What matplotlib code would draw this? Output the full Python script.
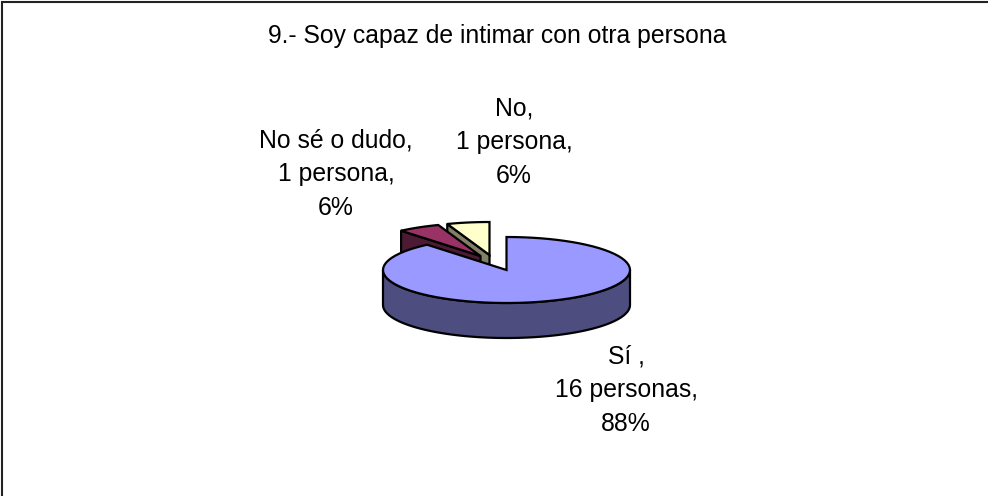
import numpy as np
import matplotlib
matplotlib.use('Agg')
import matplotlib.pyplot as plt
from matplotlib.patches import Polygon

plt.rcParams['font.family'] = 'Liberation Sans'

title = '9.- Soy capaz de intimar con otra persona'
categories = ['Sí ', 'No sé o dudo', 'No']
counts = [16, 1, 1]
units = ['16 personas', '1 persona', '1 persona']
percents = ['88%', '6%', '6%']

top_colors = ['#9999FF', '#993366', '#FFFFCC']
side_colors = ['#4D4D80', '#4D1A33', '#808066']
# everything below in pixels of the picture
cx, cy = 506.5, 270
rx, ry = 123.5, 33
depth = 35
offsets = [(0, 0), (-26, -14), (-17, -15)]
label_pos = [(626, 390), (336, 174), (514, 142)]

def rim(t1, t2, ox, oy, dy=0):
    t = np.radians(np.linspace(t1, t2, 80))
    return np.column_stack([cx + ox + rx*np.sin(t), cy + oy + dy - ry*np.cos(t)])

def draw_slice(ax, t1, t2, off, top, side):
    ox, oy = off
    apex = np.array([[cx + ox, cy + oy]])
    # cut face on the starting edge, only the small slices show it
    if off != (0, 0):
        a = rim(t1, t1, ox, oy)[0]
        face = [apex[0], a, a + [0, depth], apex[0] + [0, depth]]
        ax.add_patch(Polygon(face, fc=side, ec='black', lw=1.6, joinstyle='round'))
    # outer wall, front half of the ellipse only
    lo, hi = max(t1, 90), min(t2, 270)
    if lo < hi:
        up = rim(lo, hi, ox, oy)
        down = rim(hi, lo, ox, oy, depth)
        ax.add_patch(Polygon(np.vstack([up, down]), fc=side, ec='black', lw=1.6))
    ax.add_patch(Polygon(np.vstack([apex, rim(t1, t2, ox, oy)]), fc=top, ec='black', lw=1.6))

fig = plt.figure(figsize=(9.88, 4.96), dpi=100)
ax = fig.add_axes([0, 0, 1, 1])
ax.set_xlim(0, 988)
ax.set_ylim(496, 0)
ax.axis('off')

# frame is only on the top and left of the picture
ax.plot([2, 2, 988], [496, 2, 2], color='#222222', lw=1.5, solid_joinstyle='miter')

angles = np.cumsum([0] + counts) / sum(counts) * 360
# back slices first, the big one covers their lower part
for i in [2, 1, 0]:
    draw_slice(ax, angles[i], angles[i+1], offsets[i], top_colors[i], side_colors[i])

ax.text(497, 33, title, ha='center', va='center_baseline', fontsize=17.8, color='black')
for i in range(3):
    label = categories[i] + ',\n' + units[i] + ',\n' + percents[i]
    ax.text(label_pos[i][0], label_pos[i][1], label, ha='center', va='center',
            fontsize=17.8, linespacing=1.52, color='black')

fig.savefig('out.png', dpi=100)
